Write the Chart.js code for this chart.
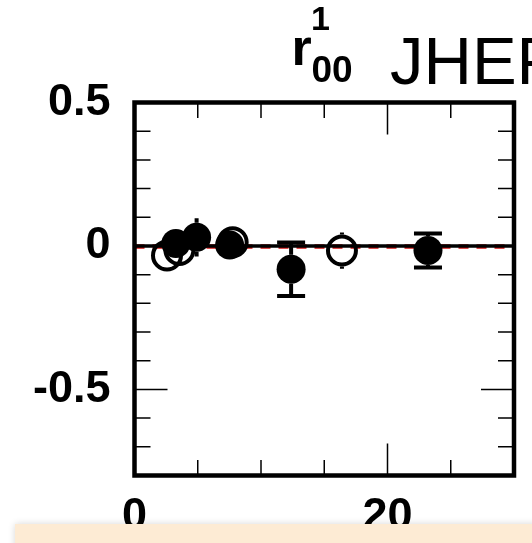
<!DOCTYPE html>
<html>
<head>
<meta charset="utf-8">
<script src="https://cdn.jsdelivr.net/npm/chart.js@4"></script>
<style>
  html, body { margin: 0; padding: 0; background: #fff; overflow: hidden; }
  #wrap { position: relative; width: 532px; height: 543px; }
  canvas { display: block; }
  #bar {
    position: absolute; left: 15px; top: 524px; width: 540px; height: 40px;
    background: #fdebd4; box-shadow: 0 0 7px rgba(0,0,0,0.16);
  }
</style>
</head>
<body>
<div id="wrap">
  <canvas id="c" width="532" height="543"></canvas>
  <div id="bar"></div>
</div>
<script>
// Filled markers, first group (no end caps)
const filledAX = [3.27, 4.91, 7.52];
const filledAY = [0.009, 0.030, 0.003];
const filledAErr = [0.03, 0.067, 0.03];

// Filled markers, second group (with end caps)
const filledBX = [12.38, 23.2];
const filledBY = [-0.081, -0.016];
const filledBErr = [0.093, 0.059];

// Open markers
const openX = [2.57, 3.55, 7.76, 16.4];
const openY = [-0.033, -0.014, 0.013, -0.016];
const openErr = [0.03, 0.03, 0.03, 0.063];

// Axis ranges and labelled ticks
const xRange = [0, 30];
const yRange = [-0.8, 0.5];
const xTickLabels = [0, 20];
const yTickLabels = [0.5, 0, -0.5];
const refLevel = 0;

const FONT = '"Liberation Sans", Arial, Helvetica, sans-serif';

function pts(xs, ys) { return xs.map((x, i) => ({ x: x, y: ys[i] })); }
function near(v, list) { return list.some(t => Math.abs(t - v) < 1e-6); }

// Reference line at zero: black solid with a red dashed line
const refLinePlugin = {
  id: 'refLine',
  beforeDatasetsDraw(chart) {
    const { ctx, scales: { x, y } } = chart;
    const py = y.getPixelForValue(refLevel);
    const x0 = x.getPixelForValue(xRange[0]);
    const x1 = x.getPixelForValue(xRange[1]);
    ctx.save();
    ctx.beginPath();
    ctx.strokeStyle = '#d01010';
    ctx.lineWidth = 4.5;
    ctx.setLineDash([10, 8]);
    ctx.moveTo(x0, py + 0.5); ctx.lineTo(x1, py + 0.5);
    ctx.stroke();
    ctx.beginPath();
    ctx.setLineDash([]);
    ctx.strokeStyle = '#000';
    ctx.lineWidth = 3.5;
    ctx.moveTo(x0, py); ctx.lineTo(x1, py);
    ctx.stroke();
    ctx.restore();
  }
};

// Vertical error bars drawn outside each marker
const errorBarPlugin = {
  id: 'errorBars',
  afterDatasetsDraw(chart) {
    const { ctx, scales: { y } } = chart;
    ctx.save();
    ctx.strokeStyle = '#000';
    ctx.lineWidth = 4;
    chart.data.datasets.forEach((ds, di) => {
      const meta = chart.getDatasetMeta(di);
      const r = ds.pointRadius + (ds.pointBorderWidth || 0) / 2;
      meta.data.forEach((el, i) => {
        const v = ds.data[i].y;
        const e = ds.errors[i];
        const cx = el.x, cy = el.y;
        const top = y.getPixelForValue(v + e);
        const bot = y.getPixelForValue(v - e);
        ctx.beginPath();
        if (top < cy - r) { ctx.moveTo(cx, cy - r); ctx.lineTo(cx, top); }
        if (bot > cy + r) { ctx.moveTo(cx, cy + r); ctx.lineTo(cx, bot); }
        ctx.stroke();
        if (ds.caps) {
          ctx.beginPath();
          ctx.moveTo(cx - 14, top); ctx.lineTo(cx + 14, top);
          ctx.moveTo(cx - 14, bot); ctx.lineTo(cx + 14, bot);
          ctx.stroke();
        }
      });
    });
    ctx.restore();
  }
};

// Frame with inward ticks on all four sides
const framePlugin = {
  id: 'frame',
  afterDraw(chart) {
    const { ctx, chartArea: a, scales: { x, y } } = chart;
    ctx.save();
    ctx.strokeStyle = '#000';
    ctx.lineWidth = 1.5;
    ctx.beginPath();
    x.ticks.forEach(t => {
      const px = x.getPixelForValue(t.value);
      const len = (Math.abs(t.value % 20) < 1e-6) ? 32 : 15.5;
      ctx.moveTo(px, a.bottom); ctx.lineTo(px, a.bottom - len);
      ctx.moveTo(px, a.top); ctx.lineTo(px, a.top + len);
    });
    y.ticks.forEach(t => {
      const py = y.getPixelForValue(t.value);
      const m = t.value * 2;
      const len = (Math.abs(m - Math.round(m)) < 1e-6) ? 33 : 16;
      ctx.moveTo(a.left, py); ctx.lineTo(a.left + len, py);
      ctx.moveTo(a.right, py); ctx.lineTo(a.right - len, py);
    });
    ctx.stroke();
    ctx.lineWidth = 4.5;
    ctx.strokeRect(a.left, a.top, a.right - a.left, a.bottom - a.top);
    ctx.restore();
  }
};

// Title: r^1_00 JHEP
const titlePlugin = {
  id: 'titleText',
  afterDraw(chart) {
    const ctx = chart.ctx;
    ctx.save();
    ctx.fillStyle = '#000';
    ctx.textBaseline = 'alphabetic';
    ctx.textAlign = 'left';
    ctx.font = 'bold 52px ' + FONT;
    ctx.fillText('r', 291.5, 65);
    ctx.font = 'bold 37px ' + FONT;
    ctx.fillText('00', 311.5, 82);
    ctx.font = 'bold 34px ' + FONT;
    ctx.fillText('1', 311, 30);
    ctx.font = '67px ' + FONT;
    ctx.fillText('JHEP', 390, 83.5);
    ctx.restore();
  }
};

new Chart(document.getElementById('c'), {
  type: 'scatter',
  data: {
    datasets: [
      {
        data: pts(filledAX, filledAY), errors: filledAErr, caps: false,
        pointRadius: 14.5, pointBorderWidth: 0, pointBackgroundColor: '#000',
        pointBorderColor: '#000', order: 0
      },
      {
        data: pts(filledBX, filledBY), errors: filledBErr, caps: true,
        pointRadius: 14.5, pointBorderWidth: 0, pointBackgroundColor: '#000',
        pointBorderColor: '#000', order: 0
      },
      {
        data: pts(openX, openY), errors: openErr, caps: false,
        pointRadius: 14, pointBorderWidth: 4, pointBackgroundColor: 'rgba(0,0,0,0)',
        pointBorderColor: '#000', order: 1
      }
    ]
  },
  options: {
    responsive: false,
    animation: false,
    devicePixelRatio: 1,
    layout: { padding: { top: 102.5, right: 12.5, left: 0, bottom: 0 } },
    plugins: { legend: { display: false }, tooltip: { enabled: false } },
    scales: {
      x: {
        type: 'linear', min: xRange[0], max: xRange[1],
        border: { display: false }, grid: { display: false, drawTicks: false },
        ticks: {
          stepSize: 5, autoSkip: false, maxRotation: 0, padding: 14,
          color: '#000', font: { family: FONT, size: 45, weight: 'bold' },
          callback: v => near(v, xTickLabels) ? String(v) : ''
        },
        afterFit(s) { s.height = 67.5; }
      },
      y: {
        type: 'linear', min: yRange[0], max: yRange[1],
        border: { display: false }, grid: { display: false, drawTicks: false },
        ticks: {
          stepSize: 0.1, autoSkip: false, padding: 24,
          color: '#000', font: { family: FONT, size: 45, weight: 'bold' },
          callback: v => near(v, yTickLabels) ? String(Math.round(v * 10) / 10) : ''
        },
        afterFit(s) { s.width = 134.5; }
      }
    }
  },
  plugins: [refLinePlugin, errorBarPlugin, framePlugin, titlePlugin]
});
</script>
</body>
</html>
